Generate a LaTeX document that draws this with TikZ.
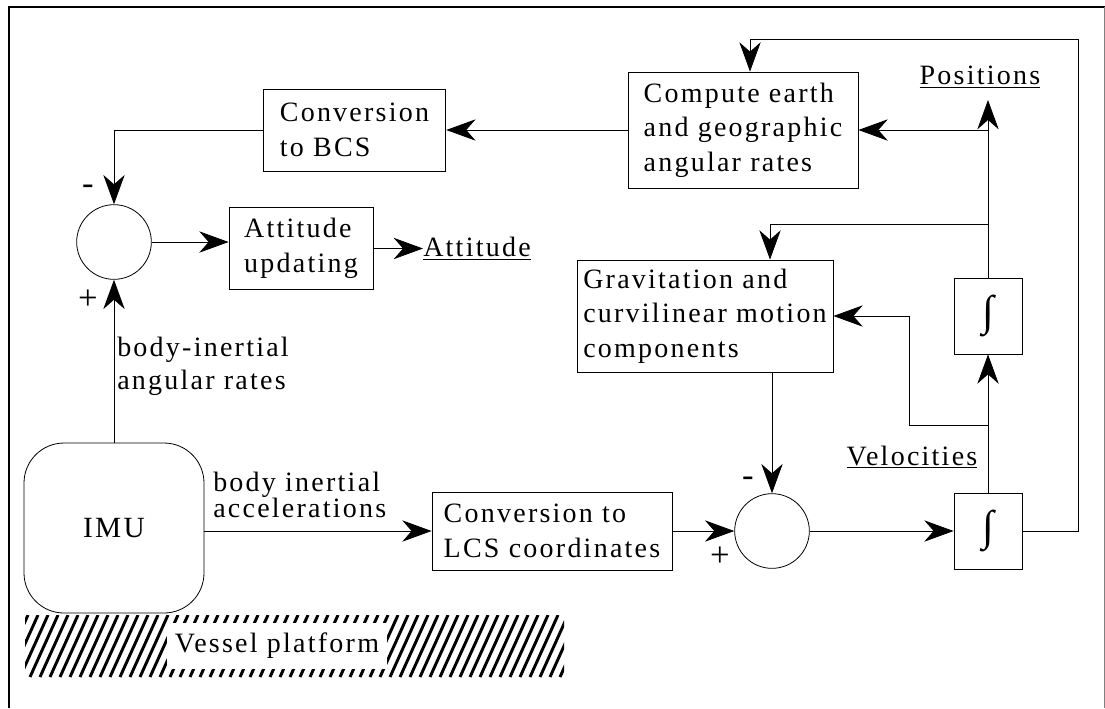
\documentclass[tikz,border=0pt]{standalone}
\usepackage{fontspec}
\setmainfont{Liberation Serif}[LetterSpace=8]
\usetikzlibrary{arrows.meta}

\tikzset{
  blk/.style={draw, line width=0.6pt, align=left, inner sep=2pt, font=\fontsize{21}{26}\selectfont},
  sumjn/.style={circle, draw, line width=0.6pt, minimum size=56pt, inner sep=0pt},
  intblk/.style={draw, line width=0.6pt, minimum width=51pt, minimum height=57pt, inner sep=0pt, font=\fontsize{32}{32}\selectfont},
  lbl/.style={font=\fontsize{21}{25}\selectfont, inner sep=0pt},
  sgn/.style={font=\fontsize{26}{26}\selectfont, inner sep=0pt},
  flow/.style={line width=0.6pt, -{Stealth[length=22pt,width=16pt,inset=7pt]}},
  wire/.style={line width=0.6pt}
}

\begin{document}
\begin{tikzpicture}[x=0.75pt, y=-0.75pt]
  \useasboundingbox (0,0) rectangle (1105,708);

  % frame
  \draw[line width=1.5pt] (9,708) -- (9,7) -- (1105,7);
  \draw[gray, line width=0.5pt] (1104,7) -- (1104,708);

  % blocks
  \node[blk, minimum width=172.5pt, minimum height=87pt] (comp) at (743,130) {Compute earth\\and geographic\\angular rates};
  \node[blk, minimum width=137pt, minimum height=61.5pt] (bcs) at (354.5,130) {Conversion\\to BCS};
  \node[blk, minimum width=108pt, minimum height=62pt] (att) at (301,248.5) {Attitude\\updating};
  \node[blk, minimum width=192pt, minimum height=84pt] (grav) at (705,316) {Gravitation and\\curvilinear motion\\components};
  \node[blk, minimum width=180pt, minimum height=58.5pt] (lcs) at (552,531) {Conversion to\\LCS coordinates};
  \node[sumjn] (sumA) at (114,242) {};
  \node[sumjn] (sumB) at (772,531) {};
  \node[intblk] (intA) at (988,316) {∫};
  \node[intblk] (intB) at (988,531) {∫};
  \node[draw, line width=0.6pt, rounded corners=30pt, minimum width=135pt, minimum height=127.5pt, font=\fontsize{22}{25}\selectfont] (imu) at (114,528) {IMU};

  % platform
  \begin{scope}
    \clip (25,615) rectangle (564,677);
    \foreach \hx in {-10,0,...,570}
      \draw[line width=2.2pt] (\hx,677) -- ++(28,-62);
  \end{scope}
  \node[lbl, fill=white, minimum width=165pt, minimum height=34.5pt] (platl) at (277,646) {Vessel platform};

  % labels
  \node[lbl] (posl) at (980,77) {\underline{Positions}};
  \node[lbl, anchor=west] (attl) at (423,248.5) {\underline{Attitude}};
  \node[lbl] (vell) at (912,457) {\underline{Velocities}};
  \node[lbl, anchor=west, align=left] (ratel) at (117,366) {body-inertial\\angular rates};
  \node[lbl, anchor=west, align=left, font=\fontsize{21}{19}\selectfont] (accl) at (213,495) {body inertial\\accelerations};
  \node[sgn] (mA) at (88,190) {-};
  \node[sgn] (pA) at (88,300) {+};
  \node[sgn] (mB) at (748,482) {-};
  \node[sgn] (pB) at (720,557) {+};

  % connectors
  \coordinate (vbr) at (988,425);
  \coordinate (vkink) at (909,425);
  \coordinate (ptip) at (988,100);
  \coordinate (pbrA) at (988,224);
  \coordinate (gin) at (770,224);
  \coordinate (pbrB) at (988,130);
  \coordinate (fbA) at (1078,39);
  \coordinate (fbB) at (750,39);

  \draw[flow] (comp.west) -- (bcs.east);
  \draw[flow] (bcs.west) -| (sumA.north);
  \draw[flow] (sumA.east) -- (sumA.east -| att.west);
  \draw[flow] (att.east) -- (attl.west);
  \draw[flow] (imu.north) -- (sumA.south);
  \draw[flow] (imu.east |- lcs.west) -- (lcs.west);
  \draw[flow] (lcs.east) -- (sumB.west);
  \draw[flow] (sumB.east) -- (intB.west);
  \draw[flow] (intB.north) -- (intA.south);
  \draw[flow] (vbr) -- (vkink) |- (grav.east);
  \draw[flow] (intA.north) -- (ptip);
  \draw[flow] (pbrA) -- (gin) -- (gin |- grav.north);
  \draw[flow] (pbrB) -- (pbrB -| comp.east);
  \draw[flow] (grav.south -| sumB.north) -- (sumB.north);
  \draw[flow] (intB.east) -| (fbA) -- (fbB) -- (fbB |- comp.north);
\end{tikzpicture}
\end{document}
